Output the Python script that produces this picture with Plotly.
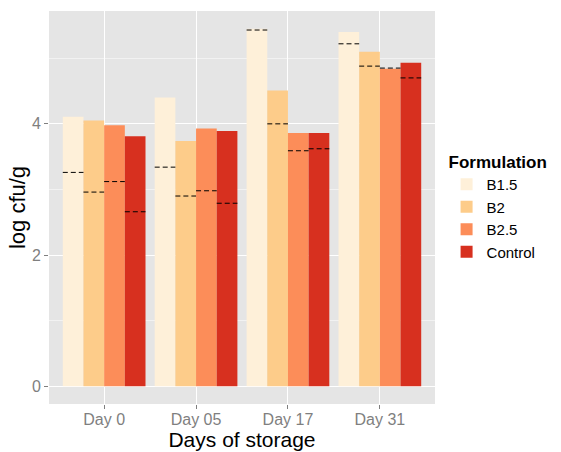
import plotly.graph_objects as go

days = ["Day 0", "Day 05", "Day 17", "Day 31"]
formulations = ["B1.5", "B2", "B2.5", "Control"]
colors = ["#FEF0D9", "#FDCC8A", "#FC8D59", "#D7301F"]

# bar heights (log cfu/g)
b15 = [4.11, 4.40, 5.45, 5.40]
b2 = [4.05, 3.74, 4.51, 5.10]
b25 = [3.98, 3.93, 3.86, 4.84]
control = [3.81, 3.89, 3.86, 4.93]

# dashed reference levels
b15_ref = [3.26, 3.34, 5.43, 5.22]
b2_ref = [2.96, 2.90, 4.00, 4.88]
b25_ref = [3.12, 2.98, 3.59, 4.85]
control_ref = [2.66, 2.79, 3.62, 4.70]

values = [b15, b2, b25, control]
refs = [b15_ref, b2_ref, b25_ref, control_ref]

FONT = "Liberation Sans, Arial, sans-serif"
group_w = 0.9
n = len(formulations)
bw = group_w / n
xs = list(range(len(days)))

fig = go.Figure()
for j, (name, col, vals) in enumerate(zip(formulations, colors, values)):
    off = -group_w / 2 + j * bw
    fig.add_trace(go.Bar(
        x=xs, y=vals, name=name, width=bw, offset=off,
        marker=dict(color=col, line=dict(width=0)),
    ))

for j, rv in enumerate(refs):
    off = -group_w / 2 + j * bw
    lx, ly = [], []
    for i, v in zip(xs, rv):
        lx += [i + off, i + off + bw, None]
        ly += [v, v, None]
    fig.add_trace(go.Scatter(
        x=lx, y=ly, mode="lines", showlegend=False, hoverinfo="skip",
        line=dict(color="black", width=1, dash="5px,3px"),
    ))

fig.update_layout(
    width=561, height=452,
    margin=dict(l=49, r=119, t=11, b=48),
    paper_bgcolor="white",
    plot_bgcolor="#E5E5E5",
    barmode="overlay",
    font=dict(family=FONT, color="black"),
    legend=dict(
        title=dict(text="<b>Formulation</b>", font=dict(size=17, color="black")),
        font=dict(size=15, color="black"),
        x=1.03, xanchor="left", y=0.5, yanchor="middle",
        bgcolor="rgba(0,0,0,0)", tracegroupgap=0, itemwidth=30,
    ),
    xaxis=dict(
        range=[-0.6, 3.6],
        tickmode="array", tickvals=xs, ticktext=days,
        showgrid=True, gridcolor="white", gridwidth=1.2,
        zeroline=False,
        ticks="outside", ticklen=4, tickcolor="#7F7F7F", tickwidth=1,
        ticklabelstandoff=-3,
        tickfont=dict(size=16, color="#7F7F7F", family=FONT),
        title=dict(text="Days of storage", font=dict(size=21, color="black", family=FONT), standoff=5),
        automargin=False,
    ),
    yaxis=dict(
        range=[-0.27, 5.72],
        tickmode="linear", tick0=0, dtick=2,
        showgrid=True, gridcolor="white", gridwidth=1.2,
        zeroline=False,
        minor=dict(dtick=1, tick0=0, showgrid=True, gridcolor="#F2F2F2", gridwidth=0.6),
        ticks="outside", ticklen=4, tickcolor="#7F7F7F", tickwidth=1,
        tickfont=dict(size=16, color="#7F7F7F", family=FONT),
        title=dict(text="log cfu/g", font=dict(size=22, color="black", family=FONT), standoff=0),
        automargin=False,
    ),
)

fig.write_html(
    "out.html",
    config={"displayModeBar": False},
    post_script="document.body.style.margin='0';",
)
